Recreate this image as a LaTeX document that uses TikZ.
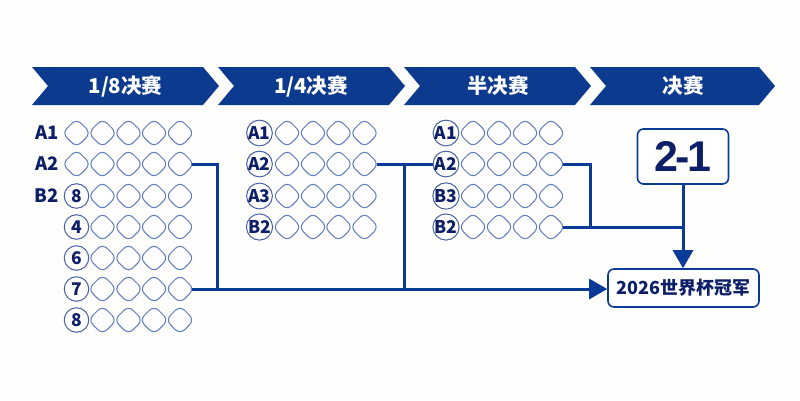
\documentclass[tikz,border=0pt]{standalone}
\usepackage{fontspec}
\setmainfont{Noto Sans CJK SC}
\newfontfamily\scorefont[LetterSpace=-6]{Liberation Sans}
\usetikzlibrary{shapes.geometric,arrows.meta,backgrounds}
\definecolor{bannerblue}{HTML}{0B3A8E}
\definecolor{linkblue}{HTML}{0A3A98}
\definecolor{cellblue}{HTML}{5F7CBE}
\definecolor{inkblue}{HTML}{0C1F68}
\definecolor{paper}{HTML}{FEFEFC}
\tikzset{
  x=1pt,y=-1pt,
  banner/.style={fill=bannerblue,draw=none},
  bannertext/.style={text=white,font=\fontsize{20.5}{21}\selectfont\bfseries,inner sep=0pt},
  cell/.style={diamond,aspect=1,draw=cellblue,fill=white,line width=1pt,rounded corners=6.5pt,minimum size=29pt,inner sep=0pt},
  seed/.style={circle,draw=cellblue!70!inkblue,fill=white,line width=1pt,minimum size=24.5pt,inner sep=0pt,text=inkblue,font=\fontsize{17.5}{17.5}\selectfont\bfseries},
  sidelabel/.style={anchor=east,inner sep=0pt,text=inkblue,font=\fontsize{18.5}{18.5}\selectfont\bfseries},
  link/.style={draw=linkblue,line width=3pt},
  fromcell/.style={shorten <=-3pt},
  arrowlink/.style={link,-{Triangle[length=18pt,width=20pt]}},
  scorebox/.style={draw=linkblue,fill=white,line width=1.6pt,rounded corners=6pt,inner sep=0pt,text=inkblue},
}
\begin{document}
\begin{tikzpicture}
\useasboundingbox (0,0) rectangle (800,400);
\begin{scope}[on background layer]
\fill[paper] (0,0) rectangle (800,400);
\end{scope}
% banners
\fill[banner] (32,67) -- (203,67) -- (219,86) -- (203,105) -- (32,105) -- (48,86) -- cycle;
\fill[banner] (218,67) -- (389,67) -- (405,86) -- (389,105) -- (218,105) -- (234,86) -- cycle;
\fill[banner] (404,67) -- (575,67) -- (591,86) -- (575,105) -- (404,105) -- (420,86) -- cycle;
\fill[banner] (590,67) -- (759,67) -- (775,86) -- (759,105) -- (590,105) -- (606,86) -- cycle;
\node[bannertext] (b1) at (125.5,86) {1/8决赛};
\node[bannertext] (b2) at (311,86) {1/4决赛};
\node[bannertext] (b3) at (498,86) {半决赛};
\node[bannertext] (b4) at (683,86) {决赛};
% round of 16
\foreach \r/\y in {1/133,2/164,3/196,4/227,5/258,6/289,7/320}{
  \foreach \c/\x in {2/102.5,3/128.5,4/154,5/180}{
    \node[cell] (p\c r\r) at (\x,\y) {};
  }
}
\node[cell] (p1r1) at (76.5,133) {};
\node[cell] (p1r2) at (76.5,164) {};
\node[seed] (p1r3) at (76.5,196) {8};
\node[seed] (p1r4) at (76.5,227) {4};
\node[seed] (p1r5) at (76.5,258) {6};
\node[seed] (p1r6) at (76.5,289) {7};
\node[seed] (p1r7) at (76.5,320) {8};
\node[sidelabel] (la1) at (59,133) {A1};
\node[sidelabel] (la2) at (59,164) {A2};
\node[sidelabel] (lb2) at (59,196) {B2};
% quarter final
\foreach \r/\y/\t in {1/133/A1,2/164/A2,3/196/A3,4/227/B2}{
  \node[seed] (q1r\r) at (259.5,\y) {\t};
  \foreach \c/\x in {2/287,3/313,4/338.5,5/364.5}{
    \node[cell] (q\c r\r) at (\x,\y) {};
  }
}
% semi final
\foreach \r/\y/\t in {1/133/A1,2/164/A2,3/196/B3,4/227/B2}{
  \node[seed] (s1r\r) at (446,\y) {\t};
  \foreach \c/\x in {2/473,3/499,4/525,5/551}{
    \node[cell] (s\c r\r) at (\x,\y) {};
  }
}
% final
\node[scorebox,minimum width=91pt,minimum height=55pt,font=\fontsize{43}{43}\selectfont\scorefont\bfseries] (score) at (683,156.5) {2-1};
\node[scorebox,minimum width=151pt,minimum height=38pt,font=\fontsize{18}{18}\selectfont\bfseries] (champ) at (683.5,288) {2026世界杯冠军};
\coordinate (j1) at (217,289);
\coordinate (j2) at (404,289);
\coordinate (j3) at (590,227);
\coordinate (j4) at (683,227);
\begin{scope}[on background layer]
\draw[link,fromcell] (p5r2.east) -| (j1);
\draw[link,fromcell] (q5r2.east) -- (s1r2.west);
\draw[link] (q5r2.east -| j2) -- (j2);
\draw[link,fromcell] (s5r2.east) -| (j3);
\draw[link,fromcell] (s5r4.east) -- (j4);
\draw[arrowlink,fromcell] (p5r6.east) -- (p5r6.east -| champ.west);
\draw[arrowlink] (score.south) -- (champ.north -| score.south);
\end{scope}
\end{tikzpicture}
\end{document}
